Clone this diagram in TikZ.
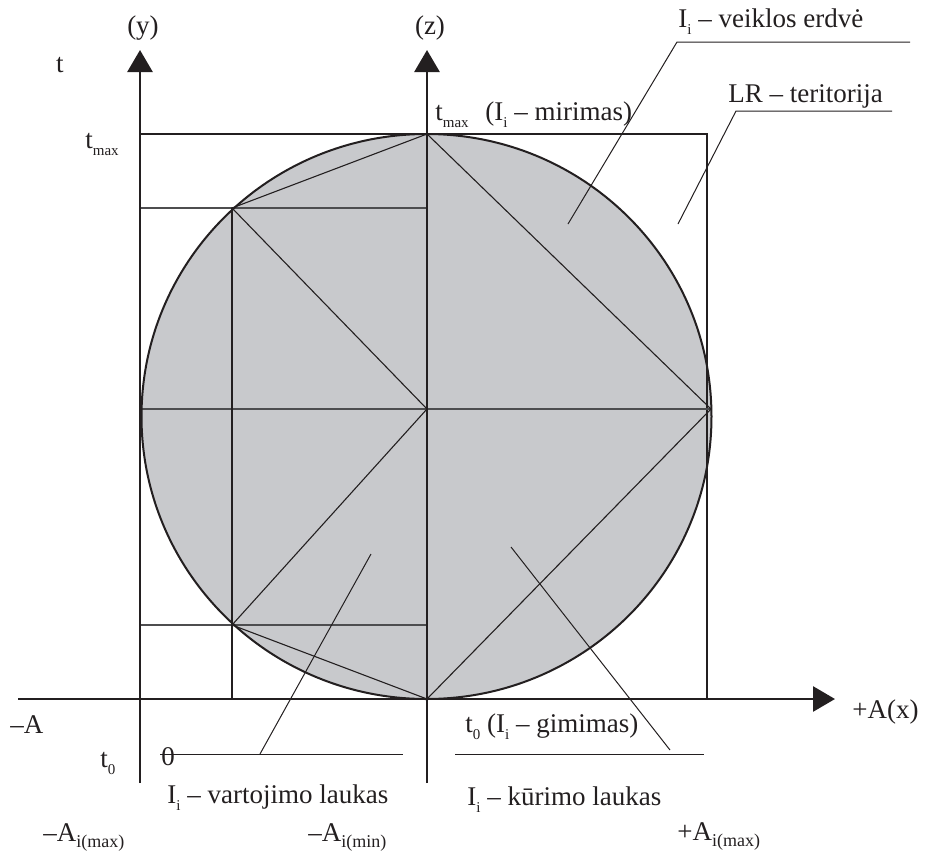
\documentclass[tikz,border=0pt]{standalone}
\usepackage{fontspec}
\setmainfont{Liberation Serif}
\usetikzlibrary{arrows.meta}
\definecolor{cDisk}{HTML}{C8C9CC}
\definecolor{cInk}{HTML}{231F20}
\definecolor{cMid}{HTML}{4D4D4F}
\newcommand\lowsub[1]{\raisebox{-3.5pt}{\fontsize{7.5}{7.5}\selectfont #1}}
\newcommand\lowsubA[1]{\raisebox{-3pt}{\fontsize{9}{9}\selectfont #1}}
\tikzset{
  axis/.style   = {draw=cInk, line width=1.4pt, -{Triangle[length=11pt,width=12.5pt]}},
  edge/.style   = {draw=cInk, line width=0.55pt},
  grid/.style   = {draw=cMid, line width=0.7pt},
  rim/.style    = {draw=cInk, line width=1pt},
  leader/.style = {draw=cInk, line width=0.5pt},
  lbl/.style    = {font=\fontsize{13.5}{15}\selectfont, inner sep=0pt, anchor=base west, text=cInk},
}

\begin{document}
\begin{tikzpicture}[x=0.5pt, y=-0.5pt]
  \useasboundingbox (0,0) rectangle (933,853);

  \coordinate (C)    at (426.5,416.5);
  \coordinate (Ztop) at (427,134);
  \coordinate (Zmid) at (427,409);
  \coordinate (Zbot) at (427,699);
  \coordinate (P1)   at (232,208);
  \coordinate (P2)   at (232,625);
  \coordinate (Q)    at (711,409);
  \coordinate (Ytop) at (140,134);
  \coordinate (Ybot) at (140,699);
  \coordinate (Rtop) at (707,134);
  \coordinate (Rbot) at (707,699);

  \fill[cDisk] (C) ellipse [x radius=285, y radius=282.5];

  \draw[edge] (Ytop) -- (Rtop) -- (Rbot);
  \draw[grid] (140,208) -- (Ztop |- P1);
  \draw[grid] (140,625) -- (Ztop |- P2);
  \draw[grid] (140,409) -- (Q);
  \draw[edge] (P1) -- (P1 |- Ybot);
  \draw[edge] (Ztop) -- (P1) -- (Zmid) -- (P2) -- (Zbot);
  \draw[edge] (Ztop) -- (Q) -- (Zbot);

  \draw[rim] (C) ellipse [x radius=285, y radius=282.5];

  \coordinate (Xl) at (18,699);
  \coordinate (Xr) at (835,699);
  \coordinate (Yl) at (140,783);
  \coordinate (Yt) at (140,50);
  \coordinate (Zl) at (427,783);
  \coordinate (Zt) at (427,50);
  \draw[axis] (Xl) -- (Xr);
  \draw[axis] (Yl) -- (Yt);
  \draw[axis] (Zl) -- (Zt);

  \node[lbl, anchor=base] (ly) at (143,34) {(y)};
  \node[lbl, anchor=base] (lz) at (430,34) {(z)};
  \node[lbl, anchor=base] (lt) at (60,72) {t};
  \node[lbl] (ltmax) at (85,148) {t\lowsub{max}};
  \node[lbl] (lmir) at (435,120) {t\lowsub{max}\hspace{5pt} (I\lowsub{i} -- mirimas)};
  \node[lbl] (lveik) at (678,27) {I\lowsub{i} -- veiklos erdvė};
  \node[lbl] (lLR) at (728,102) {LR -- teritorija};
  \node[lbl] (lmA) at (10,733) {--A};
  \node[lbl] (lt0) at (100,767) {t\lowsub{0}};
  \node[lbl, anchor=base] (lzero) at (168,765) {0};
  \node[lbl] (lvart) at (167,803) {I\lowsub{i} -- vartojimo laukas};
  \node[lbl] (lAmax) at (43,841) {--A\lowsubA{i(max)}};
  \node[lbl] (lAmin) at (308,841) {--A\lowsubA{i(min)}};
  \node[lbl] (lgim) at (465,732) {t\lowsub{0} (I\lowsub{i} -- gimimas)};
  \node[lbl] (lkur) at (467,805) {I\lowsub{i} -- kūrimo laukas};
  \node[lbl] (lAx) at (852,718) {+A(x)};
  \node[lbl] (lApmax) at (677,840) {+A\lowsubA{i(max)}};

  \coordinate (v1) at (568,224);
  \coordinate (v2) at (677,42);
  \coordinate (v3) at (910,42);
  \coordinate (r1) at (678,224);
  \coordinate (r2) at (736,111);
  \coordinate (r3) at (892,111);
  \coordinate (u1) at (371,554);
  \coordinate (u2) at (260,754);
  \coordinate (u3) at (160,754);
  \coordinate (u4) at (403,754);
  \coordinate (k1) at (511,547);
  \coordinate (k2) at (670,750);
  \coordinate (k3) at (455,754);
  \coordinate (k4) at (704,754);
  \draw[leader] (v1) -- (v2) -- (v3);
  \draw[leader] (r1) -- (r2) -- (r3);
  \draw[leader] (u1) -- (u2);
  \draw[leader] (u3) -- (u4);
  \draw[leader] (k1) -- (k2);
  \draw[leader] (k3) -- (k4);
\end{tikzpicture}
\end{document}
